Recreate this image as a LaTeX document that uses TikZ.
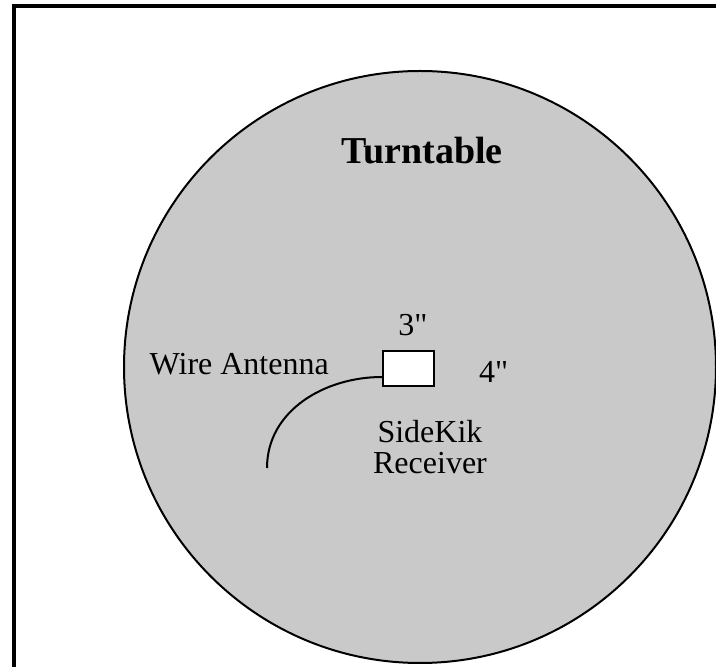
\documentclass[tikz,border=0pt]{standalone}
\usepackage{fontspec}
\setmainfont{Liberation Serif}
\usetikzlibrary{positioning}

\begin{document}
\begin{tikzpicture}[
    x=1pt, y=1pt,
    frame/.style={draw, line width=4pt},
    disc/.style={draw, circle, line width=2pt, fill=black!21, minimum size=592pt, inner sep=0pt},
    rbox/.style={draw, rectangle, line width=2pt, fill=white, minimum width=51pt, minimum height=35pt, inner sep=0pt},
    lbl/.style={inner sep=0pt, font=\fontsize{32}{31}\selectfont, align=center},
    title/.style={inner sep=0pt, font=\fontsize{38}{42}\selectfont\bfseries},
    wire/.style={draw, line width=2pt}
]
    \clip (0,0) rectangle (716,667);
    \draw[frame] (14,661) rectangle (800,-100);

    \node[disc] (table) at (420,300) {};
    \node[title, anchor=base] (ttl) at (422,503) {Turntable};

    \node[rbox] (rx) at (408.5,298.5) {};
    \node[lbl] (w3) [above=14pt of rx, xshift=4.5pt] {3\textquotedbl};
    \node[lbl] (h4) [right=44pt of rx, yshift=-3.7pt] {4\textquotedbl};
    \node[lbl] (ant) [left=53pt of rx, yshift=4pt] {Wire Antenna};
    \node[lbl] (name) [below=33pt of rx, xshift=21.5pt] {SideKik\\Receiver};

    \coordinate (wireend) at (267,199);
    \draw[wire] ([yshift=10pt]rx.south west) to[out=180, in=90] (wireend);
\end{tikzpicture}
\end{document}
